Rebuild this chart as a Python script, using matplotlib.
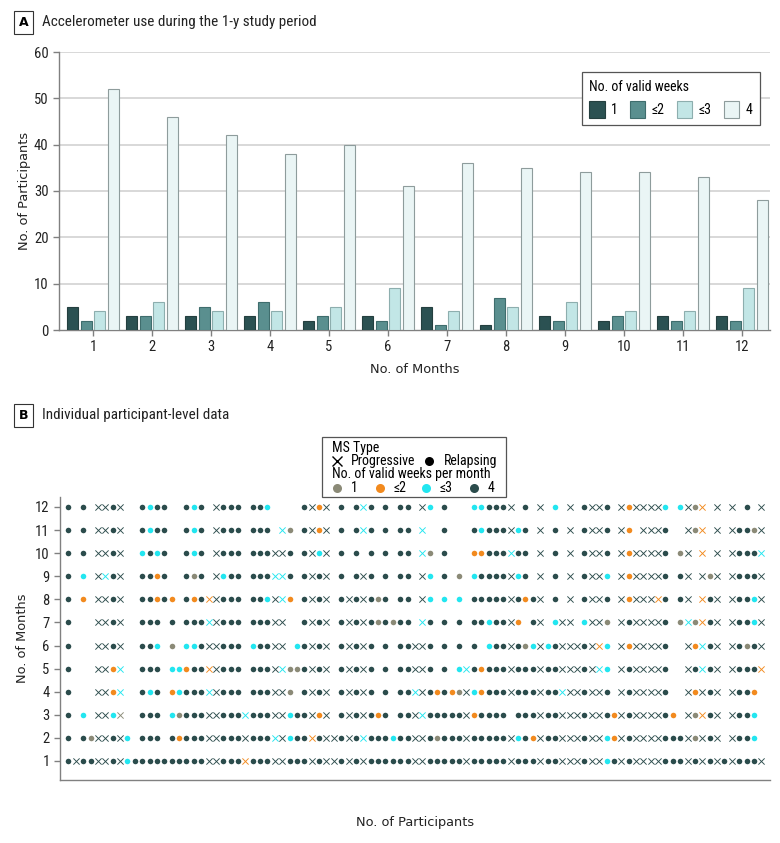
import matplotlib
matplotlib.use('Agg')
import matplotlib.pyplot as plt
from matplotlib.patches import Rectangle, Patch
from matplotlib.lines import Line2D
import numpy as np

# ---------------- Panel A data ----------------
months = list(range(1, 13))
weeks_labels = ['1', '≤2', '≤3', '4']
bars_1wk = [5, 3, 3, 3, 2, 3, 5, 1, 3, 2, 3, 3]
bars_le2 = [2, 3, 5, 6, 3, 2, 1, 7, 2, 3, 2, 2]
bars_le3 = [4, 6, 4, 4, 5, 9, 4, 5, 6, 4, 4, 9]
bars_4wk = [52, 46, 42, 38, 40, 31, 36, 35, 34, 34, 33, 28]

# ---------------- Panel B data ----------------
# MS type per participant (P = progressive, R = relapsing)
ms_type = ("RPRRPPRPRR RRRRRRRRRP PRRRPRRRPP RRRPRPPRPR"
           "PRRRRRRPPR RRRRPRRRRR PRRRPRRPPP RPPRRPRPPP"
           "PRRRPRPRPR PRRRP").replace(' ', '')
# valid weeks per month for each participant (0 = no data)
wk_m12 = "4040444400 4344004340 4444044300 0044240404 3404044043 0400033444 4040403040 4444042444 4303412040 40404"
wk_m11 = "4040444400 4344004340 4444044403 1044240404 3404044030 0400043444 4340404040 4444042044 4400412040 44414"
wk_m10 = "4040444400 3434004340 4444044444 4044340404 0404044031 0400022444 3440404040 4444042444 4401402040 44443"
wk_m9 = "4030434400 4424004140 4344044433 4044440404 4404044043 0401034444 4340404040 4443042444 4404404140 44444"
wk_m8 = "4020444400 4424204242 4444044343 2044440444 4414044043 0303044444 4424404040 4444042444 2404402440 44434"
wk_m7 = "4000444400 4440404443 4444044444 0044440444 4414144034 0404044344 4204403440 3441044444 4401312440 44434"
wk_m6 = "4000444400 4430103344 4444034444 0344440444 4404044444 0404040344 4413434444 4423042444 4400423440 44144"
wk_m5 = "4000442300 4440332442 4444044443 1144440444 4404044444 0403342444 4444444444 4433044444 4400443440 44442"
wk_m4 = "4000442300 4340234443 4444044444 1044440444 4404044344 2421432444 4444444344 4444044444 4400424440 44420"
wk_m3 = "4030443100 4440314444 4444344444 3444240444 4424044434 4444424444 0444444444 4444244444 4420412440 44430"
wk_m2 = "4041444430 4440424444 4444444434 3442444444 3444344444 1444444444 4342444444 4443244444 4444414440 44430"
wk_m1 = "4444444434 4444444444 4444244444 4444444444 4444444444 4444444444 4444444444 4443444444 4444444444 44444"
weeks_rows = [wk_m1, wk_m2, wk_m3, wk_m4, wk_m5, wk_m6, wk_m7, wk_m8, wk_m9, wk_m10, wk_m11, wk_m12]

# ---------------- Figure ----------------
W, H = 780, 843
fig = plt.figure(figsize=(W / 100, H / 100), dpi=100)


def fx(x):
    return x / W


def fy(y):
    return 1 - y / H


COND = ['Liberation Sans Narrow', 'Roboto Condensed', 'Open Sans Condensed', 'Roboto', 'DejaVu Sans']
REG = ['DejaVu Sans']
GRAY = '#808080'
TXT = '#222222'

# ---------- Panel A ----------
axA = fig.add_axes([fx(59), fy(330), fx(770) - fx(59), fy(52) - fy(330)])
xpos = np.arange(len(months))
step, bw = 0.232, 0.19
series = [bars_1wk, bars_le2, bars_le3, bars_4wk]
colA = ['#2b5152', '#5a8f8f', '#c2e6e6', '#eaf5f5']
edgeA = ['#243f3f', '#3f6d6d', '#8daeae', '#8e9c9c']
handles = []
for i, vals in enumerate(series):
    axA.bar(xpos + (i - 1.5) * step, vals, width=bw, color=colA[i],
            edgecolor=edgeA[i], linewidth=0.8, zorder=3)
    handles.append(Patch(facecolor=colA[i], edgecolor=edgeA[i], linewidth=0.8))
axA.set_xlim(-0.576, 11.475)
axA.set_ylim(0, 60)
axA.set_yticks(range(0, 61, 10))
axA.set_xticks(xpos)
axA.set_xticklabels([str(m) for m in months])
for yv in range(10, 61, 10):
    axA.axhline(yv, color='#d6d6d6', lw=1.3, zorder=0)
for s in ['top', 'right']:
    axA.spines[s].set_visible(False)
for s in ['left', 'bottom']:
    axA.spines[s].set_color(GRAY)
    axA.spines[s].set_linewidth(1.0)
axA.tick_params(axis='both', colors=GRAY, length=4, width=1.0, labelcolor=TXT)
for lab in axA.get_xticklabels() + axA.get_yticklabels():
    lab.set_fontfamily(COND)
    lab.set_fontsize(10.5)
axA.set_ylabel('No. of Participants', fontfamily=REG, fontsize=9.3, color=TXT, labelpad=2)
axA.set_xlabel('No. of Months', fontfamily=REG, fontsize=9.3, color=TXT, labelpad=6)
legA = axA.legend(handles, weeks_labels, title='No. of valid weeks', ncol=4,
                  loc='upper right', bbox_to_anchor=((760 - 59) / 711, (330 - 72) / 278),
                  borderaxespad=0.0,
                  frameon=True, fancybox=False, edgecolor='#555555', framealpha=1,
                  handlelength=1.1, handleheight=1.5, handletextpad=0.45,
                  columnspacing=0.9, borderpad=0.55, alignment='left',
                  prop={'family': COND, 'size': 10},
                  title_fontproperties={'family': COND, 'size': 10})
legA.get_frame().set_linewidth(0.9)

# Panel titles
for ypix, letter, title in [(22, 'A', 'Accelerometer use during the 1-y study period'),
                            (415, 'B', 'Individual participant-level data')]:
    fig.text(fx(23.5), fy(ypix), letter, fontfamily=REG, fontweight='bold', fontsize=9,
             ha='center', va='center',
             bbox=dict(boxstyle='square,pad=0.4', fc='white', ec='#333333', lw=0.8))
    fig.text(fx(42), fy(ypix), title, fontfamily=COND, fontsize=10.9, ha='left',
             va='center', color=TXT)

# ---------- Panel B ----------
colB = {1: '#8b8a77', 2: '#f28a1e', 3: '#22e6f0', 4: '#2b4c4c'}
axB = fig.add_axes([fx(60), fy(780), fx(770) - fx(60), fy(497) - fy(780)])
types = np.array(list(ms_type))
n_part = len(types)
participants = np.arange(1, n_part + 1)
for m, row in zip(months, weeks_rows):
    lev = np.array([int(ch) for ch in row.replace(' ', '')])
    for level in (1, 2, 3, 4):
        sel_r = (lev == level) & (types == 'R')
        sel_p = (lev == level) & (types == 'P')
        if sel_r.any():
            axB.scatter(participants[sel_r], np.full(sel_r.sum(), m), s=16,
                        marker='o', color=colB[level], linewidths=0, zorder=3)
        if sel_p.any():
            axB.scatter(participants[sel_p], np.full(sel_p.sum(), m), s=20,
                        marker='x', color=colB[level], linewidths=0.65, zorder=3)
axB.set_xlim(-0.153, 96.18)
axB.set_ylim(0.177, 12.433)
axB.set_yticks(months)
axB.set_xticks([])
for s in ['top', 'right']:
    axB.spines[s].set_visible(False)
for s in ['left', 'bottom']:
    axB.spines[s].set_color(GRAY)
    axB.spines[s].set_linewidth(1.0)
axB.tick_params(axis='y', colors=GRAY, length=4, width=1.0, labelcolor=TXT)
for lab in axB.get_yticklabels():
    lab.set_fontfamily(COND)
    lab.set_fontsize(10.5)
axB.set_ylabel('No. of Months', fontfamily=REG, fontsize=9.3, color=TXT, labelpad=4)
axB.set_xlabel('No. of Participants', fontfamily=REG, fontsize=9.3, color=TXT, labelpad=26)

# Panel B legend (manual box)
fig.add_artist(Rectangle((fx(322), fy(497)), fx(506) - fx(322), fy(437) - fy(497),
                         transform=fig.transFigure, fc='white', ec='#555555', lw=0.9))
lx = 332
LFS = 10
fig.text(fx(lx), fy(448), 'MS Type', fontfamily=COND, fontsize=LFS, va='center', ha='left')
fig.add_artist(Line2D([fx(337)], [fy(461)], marker='x', ms=6.5, mew=1.0, color='black',
                      transform=fig.transFigure))
fig.text(fx(351), fy(461), 'Progressive', fontfamily=COND, fontsize=LFS, va='center', ha='left')
fig.add_artist(Line2D([fx(429)], [fy(461)], marker='o', ms=6.5, mew=0, color='black',
                      transform=fig.transFigure))
fig.text(fx(444), fy(461), 'Relapsing', fontfamily=COND, fontsize=LFS, va='center', ha='left')
fig.text(fx(lx), fy(474), 'No. of valid weeks per month', fontfamily=COND, fontsize=LFS,
         va='center', ha='left')
for x0, level, lab in zip((337, 380, 426, 474), (1, 2, 3, 4), weeks_labels):
    fig.add_artist(Line2D([fx(x0)], [fy(488)], marker='o', ms=6.5, mew=0, color=colB[level],
                          transform=fig.transFigure))
    fig.text(fx(x0 + 14), fy(488), lab, fontfamily=COND, fontsize=LFS, va='center', ha='left')

fig.savefig('out.png', dpi=100)
